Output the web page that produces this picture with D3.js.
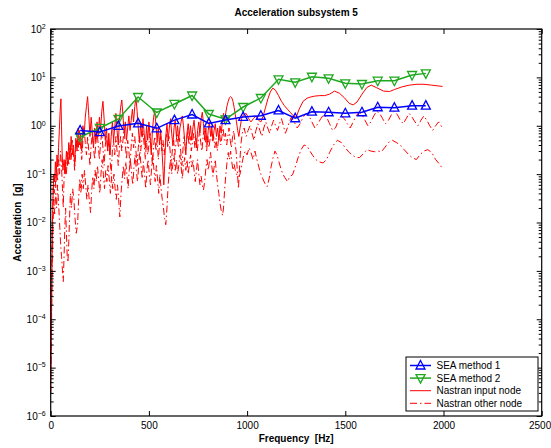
<!DOCTYPE html>
<html>
<head>
<meta charset="utf-8">
<script src="https://cdn.jsdelivr.net/npm/d3@7/dist/d3.min.js"></script>
<style>
  body { margin: 0; background: #fff; }
  svg { display: block; font-family: "Liberation Sans", Arial, Helvetica, sans-serif; }
  .pre { white-space: pre; }
</style>
</head>
<body>
<svg id="chart" width="551" height="448"></svg>
<script>
// ---------- DATA ----------
const chartTitle = "Acceleration subsystem 5";
const xLabel = "Frequency  [Hz]";
const yLabel = "Acceleration  [g]";
const xTicks = [0, 500, 1000, 1500, 2000, 2500];
const yExponents = [-6, -5, -4, -3, -2, -1, 0, 1, 2];
const legendLabels = ["SEA method 1", "SEA method 2", "Nastran input node", "Nastran other node"];

// SEA band centre frequencies [Hz]
const seaFreq = [150, 250, 345, 445, 540, 630, 720, 805, 890, 980, 1070, 1160, 1245, 1330, 1415, 1500, 1585, 1665, 1750, 1840, 1910];
// SEA method 1 [g]
const sea1Vals = [0.80, 0.74, 0.99, 1.12, 0.885, 1.31, 1.71, 1.12, 1.31, 1.52, 1.61, 2.07, 1.43, 1.95, 1.90, 1.81, 1.90, 2.41, 2.36, 2.60, 2.60];
// SEA method 2 [g]
const sea2Vals = [0.585, 0.90, 1.38, 3.93, 1.88, 2.82, 4.22, 1.75, 1.36, 2.44, 3.75, 9.12, 7.91, 10.3, 9.57, 7.54, 7.30, 8.54, 8.54, 11.2, 12.1];

// Nastran input node [Hz, g]
const nastranInput = [[0,3e-6],[2,2e-5],[4,1.2e-4],[6,7e-4],[8,0.004],[10,0.015],[13,0.05],[16,0.1],[20,0.07],[24,0.18],[28,0.09],[32,0.25],[36,0.14],[40,0.35],[44,0.8],[48,2.0],[52,3.6],[55,1.0],[58,0.3],[62,0.12],[68,0.2],[74,0.1],[80,0.3],[86,0.15],[92,0.45],[98,0.2],[104,0.6],[110,0.25],[116,0.4],[122,0.15],[128,0.55],[134,0.3],[140,0.9],[146,0.4],[152,0.7],[158,0.3],[164,1.0],[170,0.6],[176,1.5],[182,2.5],[188,4.0],[194,1.6],[200,0.6],[206,1.5],[212,0.7],[218,0.35],[224,0.9],[230,0.45],[236,1.2],[242,0.6],[248,1.5],[254,0.8],[260,2.0],[266,3.2],[272,1.4],[278,0.5],[284,0.9],[290,0.3],[296,0.7],[302,0.25],[308,0.6],[314,1.2],[320,0.5],[326,0.9],[332,1.8],[338,0.8],[344,0.4],[350,1.3],[356,2.4],[362,3.4],[368,1.6],[374,0.7],[380,1.2],[386,0.5],[392,0.9],[398,1.6],[404,0.8],[410,1.3],[416,2.2],[422,1.2],[428,2.5],[434,3.8],[440,2.0],[446,0.9],[452,0.45],[458,1.1],[464,0.6],[470,1.4],[476,0.7],[482,0.35],[488,1.0],[494,0.5],[500,1.2],[506,0.6],[512,0.25],[518,0.8],[524,1.5],[530,2.0],[536,1.0],[542,0.5],[548,0.9],[554,0.4],[560,0.8],[566,0.35],[572,0.12],[576,0.06],[580,0.15],[586,0.6],[592,1.1],[598,0.5],[604,0.9],[610,1.4],[616,0.7],[622,0.4],[628,0.9],[634,1.3],[640,0.6],[646,1.0],[652,0.5],[658,0.9],[664,1.2],[670,1.6],[676,1.0],[682,0.5],[688,0.25],[694,0.7],[700,1.1],[706,0.6],[712,1.0],[718,0.5],[724,0.9],[730,1.3],[736,0.7],[742,0.35],[748,0.8],[754,1.2],[760,0.7],[766,1.4],[772,1.9],[778,1.1],[784,0.5],[790,0.9],[796,0.4],[802,0.8],[808,1.2],[814,0.6],[820,1.0],[826,0.5],[832,0.8],[838,1.1],[844,0.6],[850,0.9],[856,0.5],[862,1.0],[868,0.7],[874,1.2],[880,1.8],[886,1.2],[892,1.9],[898,2.6],[904,3.2],[910,3.8],[916,4.0],[922,3.8],[928,3.2],[934,2.4],[940,1.7],[946,1.2],[952,0.8],[958,0.6],[964,0.9],[972,1.4],[982,1.7],[995,1.8],[1008,1.4],[1020,1.2],[1032,1.4],[1045,1.6],[1058,1.3],[1070,1.2],[1082,1.6],[1094,2.4],[1106,3.6],[1118,5.0],[1131,6.0],[1145,5.4],[1160,4.2],[1175,3.2],[1190,2.6],[1205,2.2],[1220,1.9],[1235,1.6],[1250,1.5],[1265,2.2],[1285,3.2],[1305,3.7],[1320,3.9],[1345,4.1],[1370,4.2],[1395,4.2],[1420,4.5],[1445,5.2],[1470,4.7],[1495,3.8],[1520,2.9],[1540,2.7],[1560,3.1],[1585,4.5],[1610,6.2],[1632,6.9],[1660,6.1],[1695,5.2],[1725,5.1],[1750,5.6],[1785,6.3],[1825,6.9],[1865,7.2],[1900,7.2],[1940,6.9],[1995,6.5]];

// Nastran other nodes [Hz, g]
const nastranOtherA = [[0,1e-5],[2,5e-5],[4,3e-4],[6,0.002],[8,0.008],[11,0.03],[14,0.06],[18,0.04],[22,0.1],[26,0.05],[30,0.12],[35,0.07],[40,0.2],[45,0.1],[50,0.3],[55,0.15],[60,0.05],[64,0.02],[68,0.08],[74,0.2],[80,0.1],[86,0.3],[92,0.15],[98,0.4],[104,0.2],[110,0.5],[116,0.25],[122,0.12],[128,0.35],[134,0.6],[140,0.3],[146,0.8],[152,0.4],[158,0.2],[164,0.5],[170,0.9],[176,0.45],[182,0.25],[188,0.6],[194,0.3],[200,0.15],[206,0.4],[212,0.7],[218,0.35],[224,0.2],[230,0.5],[236,0.8],[242,0.4],[248,0.2],[254,0.45],[260,0.7],[266,0.35],[272,0.15],[278,0.4],[284,0.6],[290,0.3],[296,0.5],[302,0.2],[308,0.1],[314,0.3],[320,0.5],[326,0.25],[332,0.6],[338,0.3],[344,0.15],[350,0.35],[356,0.6],[362,0.3],[368,0.5],[374,0.8],[380,0.4],[386,0.2],[392,0.5],[398,0.3],[404,0.15],[410,0.4],[416,0.7],[422,0.35],[428,0.6],[434,0.3],[440,0.15],[446,0.35],[452,0.6],[458,0.3],[464,0.5],[470,0.8],[476,0.4],[482,0.2],[488,0.5],[494,0.25],[500,0.4],[506,0.7],[512,0.35],[518,0.15],[524,0.4],[530,0.6],[536,0.3],[542,0.5],[548,0.2],[554,0.4],[560,0.6],[566,0.3],[572,0.5],[578,0.25],[584,0.45],[590,0.7],[596,0.35],[602,0.6],[608,0.3],[614,0.15],[620,0.35],[626,0.5],[632,0.25],[638,0.45],[644,0.7],[650,0.35],[656,0.55],[662,0.3],[668,0.15],[674,0.35],[680,0.6],[686,0.3],[692,0.5],[698,0.8],[704,0.4],[710,0.6],[716,0.3],[722,0.45],[728,0.7],[734,0.35],[740,0.55],[746,0.3],[752,0.5],[758,0.8],[764,0.45],[770,0.3],[776,0.6],[782,0.9],[788,0.5],[794,0.3],[800,0.6],[806,0.35],[812,0.55],[818,0.8],[824,0.45],[830,0.6],[836,0.35],[842,0.55],[848,0.3],[854,0.5],[860,0.7],[866,0.4],[872,0.6],[878,0.9],[884,0.5],[890,0.7],[896,0.4],[902,0.6],[908,0.9],[914,0.5],[920,0.35],[926,0.6],[932,0.8],[938,0.45],[944,0.3],[950,0.12],[956,0.05],[962,0.15],[968,0.4],[975,0.7],[985,0.9],[995,0.6],[1005,0.8],[1015,1.0],[1025,0.7],[1035,0.5],[1045,0.8],[1055,1.1],[1065,0.8],[1075,0.6],[1085,0.9],[1095,1.2],[1105,0.9],[1115,0.7],[1125,1.0],[1135,1.3],[1145,1.0],[1155,0.8],[1165,1.1],[1175,1.4],[1185,1.0],[1195,0.7],[1205,0.9],[1215,1.2],[1225,1.5],[1240,1.2],[1255,0.9],[1270,1.1],[1285,1.5],[1300,1.8],[1315,1.6],[1330,1.2],[1345,0.9],[1360,1.1],[1375,1.4],[1390,1.7],[1405,1.5],[1420,1.1],[1435,0.8],[1450,0.9],[1465,1.3],[1480,1.6],[1495,1.4],[1510,1.1],[1525,0.9],[1540,1.2],[1555,1.6],[1570,1.9],[1585,1.7],[1600,1.3],[1615,1.0],[1630,1.2],[1645,1.6],[1660,2.0],[1675,1.8],[1690,1.4],[1705,1.1],[1720,1.3],[1735,1.7],[1750,2.0],[1765,1.7],[1780,1.3],[1795,1.1],[1810,1.4],[1825,1.8],[1840,1.5],[1855,1.2],[1870,1.0],[1885,1.3],[1900,1.6],[1915,1.3],[1930,1.0],[1945,0.8],[1960,1.0],[1975,1.2],[1995,0.9]];

const nastranOtherB = [[0,3e-6],[3,3e-5],[6,3e-4],[9,0.002],[12,0.01],[16,0.03],[20,0.015],[25,0.04],[30,0.02],[35,0.06],[40,0.025],[45,0.01],[50,0.004],[55,0.002],[60,0.001],[64,6e-4],[68,0.002],[72,0.008],[76,0.02],[80,0.006],[84,0.002],[88,0.0015],[92,0.004],[96,0.012],[100,0.04],[106,0.02],[112,0.05],[118,0.03],[124,0.012],[130,0.006],[137,0.009],[142,0.03],[148,0.08],[154,0.04],[160,0.1],[166,0.05],[172,0.12],[178,0.06],[184,0.03],[190,0.06],[196,0.03],[203,0.016],[208,0.04],[214,0.09],[220,0.05],[226,0.12],[232,0.07],[238,0.15],[244,0.08],[250,0.04],[256,0.1],[262,0.2],[268,0.1],[274,0.05],[280,0.12],[286,0.07],[292,0.15],[298,0.08],[304,0.04],[310,0.09],[316,0.05],[322,0.1],[328,0.05],[334,0.03],[340,0.06],[346,0.03],[352,0.013],[358,0.04],[364,0.08],[370,0.15],[376,0.08],[382,0.18],[388,0.1],[394,0.05],[400,0.12],[406,0.2],[412,0.1],[418,0.06],[424,0.14],[430,0.25],[436,0.12],[442,0.07],[448,0.15],[454,0.3],[460,0.15],[466,0.08],[472,0.18],[478,0.1],[484,0.05],[490,0.12],[496,0.2],[502,0.1],[508,0.06],[514,0.14],[520,0.25],[526,0.12],[532,0.07],[538,0.15],[544,0.08],[550,0.04],[556,0.1],[562,0.05],[568,0.03],[574,0.02],[580,0.012],[586,0.009],[592,0.02],[598,0.06],[604,0.12],[610,0.2],[616,0.1],[622,0.16],[628,0.25],[634,0.12],[640,0.2],[646,0.1],[652,0.15],[658,0.25],[664,0.14],[670,0.08],[676,0.15],[682,0.22],[688,0.12],[694,0.2],[700,0.1],[706,0.16],[712,0.25],[718,0.14],[724,0.2],[730,0.12],[736,0.07],[742,0.12],[748,0.2],[754,0.1],[760,0.06],[766,0.09],[772,0.06],[778,0.047],[784,0.07],[790,0.13],[796,0.2],[802,0.12],[808,0.18],[814,0.28],[820,0.15],[826,0.09],[832,0.14],[838,0.2],[844,0.1],[850,0.06],[856,0.04],[862,0.025],[868,0.018],[875,0.014],[880,0.02],[886,0.05],[892,0.1],[898,0.18],[904,0.28],[910,0.2],[916,0.3],[922,0.18],[928,0.12],[934,0.16],[940,0.12],[946,0.1],[952,0.09],[958,0.087],[964,0.1],[972,0.15],[980,0.22],[990,0.3],[1000,0.25],[1010,0.35],[1020,0.28],[1030,0.2],[1040,0.3],[1050,0.2],[1060,0.14],[1070,0.1],[1080,0.08],[1090,0.065],[1102,0.055],[1112,0.08],[1122,0.14],[1132,0.22],[1142,0.3],[1152,0.25],[1162,0.18],[1172,0.13],[1182,0.1],[1192,0.085],[1206,0.07],[1218,0.09],[1231,0.096],[1245,0.14],[1260,0.22],[1275,0.32],[1290,0.4],[1305,0.38],[1320,0.3],[1335,0.24],[1350,0.2],[1365,0.18],[1387,0.17],[1405,0.2],[1420,0.28],[1440,0.4],[1460,0.5],[1480,0.45],[1500,0.35],[1520,0.28],[1540,0.24],[1555,0.22],[1573,0.22],[1590,0.26],[1610,0.32],[1630,0.3],[1650,0.29],[1668,0.3],[1684,0.29],[1700,0.35],[1720,0.45],[1740,0.5],[1760,0.45],[1780,0.4],[1800,0.32],[1820,0.26],[1840,0.22],[1862,0.2],[1880,0.25],[1900,0.3],[1920,0.32],[1940,0.28],[1960,0.2],[1980,0.16],[1995,0.13]];

// ---------- STYLE ----------
const colBlue = "#0000ff", colGreen = "#1fa81f", colRed = "#ff0000";
const dashDot = "7,3,1.5,3";
const L = 50.7, R = 541.7, T = 29, B = 416;

const svg = d3.select("#chart");
const x = d3.scaleLinear().domain([0, 2500]).range([L, R]);
const y = d3.scaleLog().domain([1e-6, 1e2]).range([B, T]);

svg.append("defs").append("clipPath").attr("id", "plotClip")
  .append("rect").attr("x", L).attr("y", T).attr("width", R - L).attr("height", B - T);

const plot = svg.append("g").attr("clip-path", "url(#plotClip)");
const line = d3.line().x(d => x(d[0])).y(d => y(d[1]));

// red curves
[nastranOtherB, nastranOtherA].forEach(s => {
  plot.append("path").datum(s).attr("d", line)
    .attr("fill", "none").attr("stroke", colRed).attr("stroke-width", 1)
    .attr("stroke-dasharray", dashDot);
});
plot.append("path").datum(nastranInput).attr("d", line)
  .attr("fill", "none").attr("stroke", colRed).attr("stroke-width", 1);

// SEA series
const tri = (cx, cy, up) => up
  ? `M${cx},${cy - 5}L${cx + 4.5},${cy + 3.5}L${cx - 4.5},${cy + 3.5}Z`
  : `M${cx},${cy + 5}L${cx + 4.5},${cy - 3.5}L${cx - 4.5},${cy - 3.5}Z`;

function drawSEA(vals, color, up) {
  const pts = seaFreq.map((f, i) => [f, vals[i]]);
  svg.append("path").datum(pts).attr("d", line)
    .attr("fill", "none").attr("stroke", color).attr("stroke-width", 1.5);
  svg.append("g").selectAll("path").data(pts).join("path")
    .attr("d", d => tri(x(d[0]), y(d[1]), up))
    .attr("fill", "none").attr("stroke", color).attr("stroke-width", 1.3);
}
drawSEA(sea2Vals, colGreen, false);
drawSEA(sea1Vals, colBlue, true);

// ---------- AXES ----------
const majorY = yExponents.map(e => Math.pow(10, e));
const minorY = [];
yExponents.slice(0, -1).forEach(e => { for (let k = 2; k <= 9; k++) minorY.push(k * Math.pow(10, e)); });

function styleAxis(g) {
  g.selectAll("path.domain").remove();
  g.selectAll("line").attr("stroke", "#000").attr("stroke-width", 1);
}

// bottom
svg.append("g").attr("transform", `translate(0,${B})`)
  .call(d3.axisBottom(x).tickValues(xTicks).tickSize(-5).tickPadding(6).tickFormat(d3.format("d")))
  .call(styleAxis)
  .call(g => g.selectAll("text").attr("font-size", 10).attr("fill", "#000")
    .attr("font-family", "Liberation Sans, Arial, sans-serif"))
  .call(g => g.selectAll(".tick").filter(d => d === 2500).select("text")
    .attr("text-anchor", "end").attr("x", 9));
// top
svg.append("g").attr("transform", `translate(0,${T})`)
  .call(d3.axisTop(x).tickValues(xTicks).tickSize(-5).tickFormat(""))
  .call(styleAxis);
// left major
svg.append("g").attr("transform", `translate(${L},0)`)
  .call(d3.axisLeft(y).tickValues(majorY).tickSize(-5).tickPadding(12).tickFormat(""))
  .call(styleAxis)
  .call(g => g.selectAll(".tick").each(function (d) {
    const e = Math.round(Math.log10(d));
    const t = d3.select(this).append("text").attr("x", -5).attr("dy", "0.32em")
      .attr("text-anchor", "end").attr("fill", "#000").attr("font-size", 10)
      .attr("font-family", "Liberation Sans, Arial, sans-serif");
    t.append("tspan").text("10");
    t.append("tspan").attr("dy", "-0.55em").attr("font-size", 7).text(String(e).replace("-", "\u2212"));
  }));
// left minor
svg.append("g").attr("transform", `translate(${L},0)`)
  .call(d3.axisLeft(y).tickValues(minorY).tickSize(-3).tickFormat(""))
  .call(styleAxis);
// right
svg.append("g").attr("transform", `translate(${R},0)`)
  .call(d3.axisRight(y).tickValues(majorY).tickSize(-5).tickFormat(""))
  .call(styleAxis);
svg.append("g").attr("transform", `translate(${R},0)`)
  .call(d3.axisRight(y).tickValues(minorY).tickSize(-3).tickFormat(""))
  .call(styleAxis);

// frame
svg.append("rect").attr("x", L).attr("y", T).attr("width", R - L).attr("height", B - T)
  .attr("fill", "none").attr("stroke", "#000").attr("stroke-width", 1.2);

// titles
svg.append("text").attr("x", (L + R) / 2).attr("y", 16).attr("text-anchor", "middle")
  .attr("font-size", 10).attr("font-weight", "bold").text(chartTitle);
svg.append("text").attr("class", "pre").attr("x", (L + R) / 2).attr("y", 442).attr("text-anchor", "middle")
  .attr("font-size", 10).attr("font-weight", "bold").text(xLabel);
svg.append("text").attr("class", "pre").attr("transform", `translate(21,${(T + B) / 2}) rotate(-90)`)
  .attr("text-anchor", "middle").attr("font-size", 10).attr("font-weight", "bold").text(yLabel);

// ---------- LEGEND ----------
const lg = svg.append("g");
lg.append("rect").attr("x", 406).attr("y", 357).attr("width", 132).attr("height", 54)
  .attr("fill", "#fff").attr("stroke", "#000").attr("stroke-width", 1);
const legStyles = [
  { color: colBlue, dash: null, marker: "up", w: 1.5 },
  { color: colGreen, dash: null, marker: "down", w: 1.5 },
  { color: colRed, dash: null, marker: null, w: 1 },
  { color: colRed, dash: dashDot, marker: null, w: 1 }
];
legendLabels.forEach((lab, i) => {
  const cy = 365.5 + i * 12.6;
  const s = legStyles[i];
  lg.append("line").attr("x1", 410).attr("x2", 431).attr("y1", cy).attr("y2", cy)
    .attr("stroke", s.color).attr("stroke-width", s.w).attr("stroke-dasharray", s.dash);
  if (s.marker) lg.append("path").attr("d", tri(420.5, cy, s.marker === "up"))
    .attr("fill", "none").attr("stroke", s.color).attr("stroke-width", 1.3);
  lg.append("text").attr("x", 436.5).attr("y", cy).attr("dy", "0.35em")
    .attr("font-size", 10).attr("fill", "#000").text(lab);
});
</script>
</body>
</html>
